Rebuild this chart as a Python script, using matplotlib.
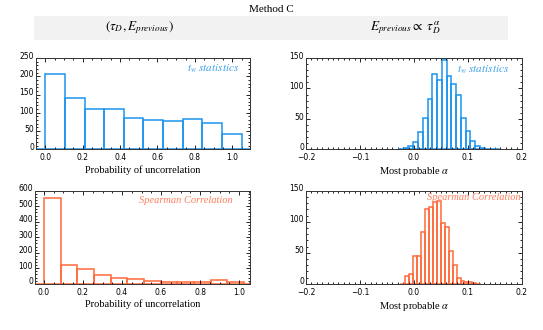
import numpy as np
import matplotlib
matplotlib.use("Agg")
import matplotlib.pyplot as plt
import matplotlib.transforms as mtransforms
from matplotlib.ticker import MultipleLocator

plt.rcParams["mathtext.fontset"] = "stix"
plt.rcParams["font.family"] = ["Liberation Serif", "DejaVu Serif"]

# ---- data ----
# probability of uncorrelation, t_w statistics (10 bins from 0)
p_tw_start, p_tw_width = 0.0, 0.105
p_tw_counts = [206, 141, 109, 109, 86, 80, 77, 82, 73, 43]

# probability of uncorrelation, Spearman (12 bins from 0)
p_sp_start, p_sp_width = 0.0, 0.0855
p_sp_counts = [550, 118, 92, 55, 40, 32, 19, 13, 11, 11, 24, 13]

# most probable alpha, t_w statistics
a_tw_start, a_tw_width = -0.019, 0.0088
a_tw_counts = [2, 5, 12, 28, 52, 82, 124, 114, 146, 121, 108, 90, 52, 30, 14, 6, 2, 1, 1]

# most probable alpha, Spearman
a_sp_start, a_sp_width = -0.016, 0.0073
a_sp_counts = [12, 15, 45, 45, 83, 120, 123, 131, 134, 98, 91, 53, 30, 9, 5, 2, 2, 1]

blue = "#1b95ef"
orange = "#ff6a38"
blue_txt = "#3a9fe6"
orange_txt = "#ff7f5c"

fig = plt.figure(figsize=(5.43, 3.30), dpi=100)
W, H = 543.0, 330.0

def box(l, t, r, b):
    return [l / W, 1 - b / H, (r - l) / W, (b - t) / H]

def hist(ax, start, width, counts, color, xlim, ylim, xmaj, xmin, ymaj, ymin):
    counts = np.array(counts)
    left = start + width * np.arange(len(counts))
    ax.bar(left, counts, width=width, align="edge", fill=False,
           edgecolor=color, linewidth=1.1)
    end = start + width * len(counts)
    ax.plot([start - width, start], [0, 0], color=color, lw=1.1)
    ax.plot([end, end + width], [0, 0], color=color, lw=1.1)
    ax.set_xlim(*xlim)
    ax.set_ylim(*ylim)
    ax.xaxis.set_major_locator(MultipleLocator(xmaj))
    ax.xaxis.set_minor_locator(MultipleLocator(xmin))
    ax.yaxis.set_major_locator(MultipleLocator(ymaj))
    ax.yaxis.set_minor_locator(MultipleLocator(ymin))
    ax.tick_params(which="both", direction="in", top=True, right=True,
                   labelsize=5.5, width=0.6)
    ax.tick_params(axis="x", pad=3)
    ax.tick_params(axis="y", pad=1.5)
    ax.tick_params(which="major", length=3)
    ax.tick_params(which="minor", length=1.5)
    shift = mtransforms.ScaledTranslation(0, 2 / 72, fig.dpi_scale_trans)
    for lab in ax.get_yticklabels():
        lab.set_family("DejaVu Sans")
        lab.set_transform(lab.get_transform() + shift)
    for lab in ax.get_xticklabels():
        lab.set_family("DejaVu Sans")
    for s in ax.spines.values():
        s.set_linewidth(0.7)
        s.set_color("#333333")

def fmt(v, p):
    return f"{v:.1f}".replace("-", "\u2212")

ax1 = fig.add_axes(box(36, 58, 250, 149.3))
hist(ax1, p_tw_start, p_tw_width, p_tw_counts, blue, (-0.05, 1.095), (0, 250), 0.2, 0.05, 50, 10)
ax1.xaxis.set_major_formatter(fmt)
ax1.set_xlabel("Probability of uncorrelation", fontsize=7.5, labelpad=2)
ax1.text(0.95, 0.88, r"$t_w$ $statistics$", transform=ax1.transAxes, ha="right",
         va="center", color=blue_txt, fontsize=8)

ax2 = fig.add_axes(box(306, 58, 522, 149.3))
hist(ax2, a_tw_start, a_tw_width, a_tw_counts, blue, (-0.2, 0.2), (0, 150), 0.1, 0.01, 50, 10)
ax2.xaxis.set_major_formatter(fmt)
ax2.set_xlabel(r"Most probable $\alpha$", fontsize=7.5, labelpad=2)
ax2.text(0.94, 0.87, r"$t_w$ $statistics$", transform=ax2.transAxes, ha="right",
         va="center", color=blue_txt, fontsize=8)

ax3 = fig.add_axes(box(35, 190.7, 250, 283.7))
hist(ax3, p_sp_start, p_sp_width, p_sp_counts, orange, (-0.046, 1.056), (0, 600), 0.2, 0.05, 100, 20)
ax3.xaxis.set_major_formatter(fmt)
ax3.set_xlabel("Probability of uncorrelation", fontsize=7.5, labelpad=2)
ax3.text(0.92, 0.89, "Spearman Correlation", transform=ax3.transAxes, ha="right",
         va="center", color=orange_txt, fontsize=7.5, style="italic")

ax4 = fig.add_axes(box(306, 190.7, 522, 283.7))
hist(ax4, a_sp_start, a_sp_width, a_sp_counts, orange, (-0.2, 0.2), (0, 150), 0.1, 0.01, 50, 10)
ax4.xaxis.set_major_formatter(fmt)
ax4.set_xlabel(r"Most probable $\alpha$", fontsize=7.5, labelpad=2)
ax4.text(0.995, 0.93, "Spearman Correlation", transform=ax4.transAxes, ha="right",
         va="center", color=orange_txt, fontsize=7.5, style="italic")

# header band
band = fig.add_axes(box(34, 16, 508, 40))
band.set_facecolor("#f2f2f2")
band.set_xticks([])
band.set_yticks([])
for s in band.spines.values():
    s.set_visible(False)

fig.text(271 / W, 1 - 9.5 / H, "Method C", ha="center", va="center", fontsize=8)
fig.text(139 / W, 1 - 28 / H, r"$(\tau_D, E_{previous})$", ha="center", va="center", fontsize=9.5)
fig.text(405 / W, 1 - 28 / H, r"$E_{previous} \propto\ \tau_D^{\alpha}$", ha="center", va="center", fontsize=9.5)

fig.savefig("out.png", dpi=100)
